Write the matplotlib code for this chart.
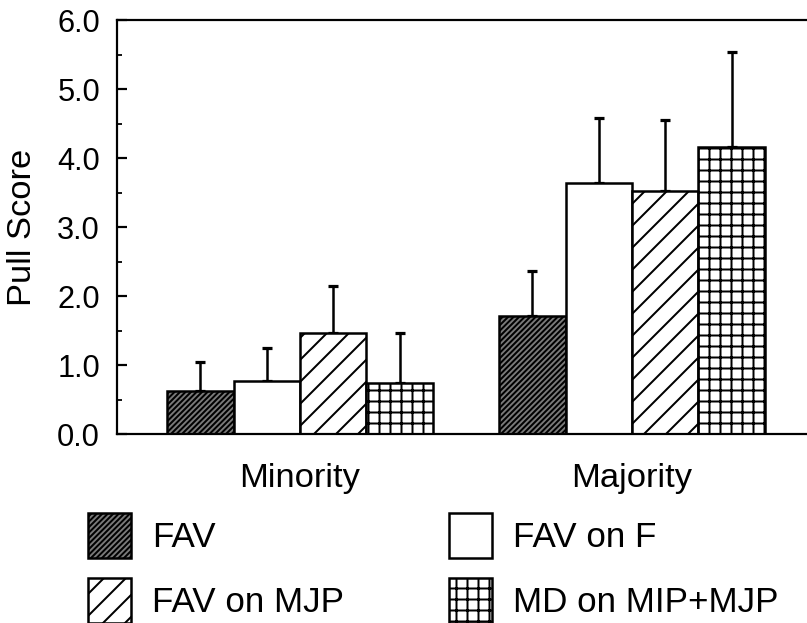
import matplotlib
matplotlib.use("Agg")
import matplotlib.pyplot as plt
import matplotlib.patches as mpatches
from matplotlib.ticker import MultipleLocator, FormatStrFormatter
import numpy as np

# ---- data ----
groups = ["Minority", "Majority"]
conditions = ["FAV", "FAV on F", "FAV on MJP", "MD on MIP+MJP"]
minority_means = [0.62, 0.77, 1.47, 0.74]
minority_err = [0.43, 0.475, 0.68, 0.72]
majority_means = [1.71, 3.635, 3.53, 4.165]
majority_err = [0.66, 0.94, 1.02, 1.365]
yticks = [0.0, 1.0, 2.0, 3.0, 4.0, 5.0, 6.0]

# ---- styling ----
DPI = 132
W, H = 807, 623
P = 72.0 / DPI  # pixels -> points


def pt(px):
    return px * P


plt.rcParams['font.family'] = ['Liberation Sans', 'DejaVu Sans']
plt.rcParams['hatch.linewidth'] = pt(2.0)
plt.rcParams['hatch.color'] = 'black'

faces = ['#7a7a7a', 'white', 'white', 'white']
hatches = ['////////', '', '//', '++']

fig = plt.figure(figsize=(W / DPI, H / DPI), dpi=DPI)
ax_left, ax_right = 117, 807
ax_top, ax_bot = 20, 434.3
ax = fig.add_axes([ax_left / W, (H - ax_bot) / H, (ax_right - ax_left) / W, (ax_bot - ax_top) / H])

x = np.arange(len(groups))
width = 0.2
offsets = [-0.3, -0.1, 0.1, 0.3]
for i in range(len(conditions)):
    means = [minority_means[i], majority_means[i]]
    errs = [minority_err[i], majority_err[i]]
    ax.bar(x + offsets[i], means, width, color=faces[i], edgecolor='black',
           linewidth=pt(2.5), hatch=hatches[i], zorder=2)
    ax.errorbar(x + offsets[i], means, yerr=[np.zeros(2), errs], fmt='none',
                ecolor='black', elinewidth=pt(2.5), capsize=pt(5), capthick=pt(3.2), zorder=1)

ax.set_xlim(-0.5512, 1.5271)
ax.set_ylim(0, 6)
ax.set_yticks(yticks)
ax.yaxis.set_major_formatter(FormatStrFormatter('%.1f'))
ax.yaxis.set_minor_locator(MultipleLocator(0.5))
ax.set_xticks(x)
ax.set_xticklabels(groups, fontsize=pt(34.5))
ax.tick_params(axis='x', length=0, pad=pt(29))
ax.tick_params(axis='y', which='major', direction='in', length=pt(10), width=pt(2.2),
               labelsize=pt(30.8), pad=pt(17))
ax.tick_params(axis='y', which='minor', direction='in', length=pt(5), width=pt(1.8))
for s in ['left', 'bottom', 'top']:
    ax.spines[s].set_linewidth(pt(2.2))
ax.spines['right'].set_visible(False)

ax.set_ylabel('Pull Score', fontsize=pt(34.5))
ax.yaxis.set_label_coords((38 - ax_left) / (ax_right - ax_left), 0.5)

handles = [mpatches.Patch(facecolor=faces[i], edgecolor='black', linewidth=pt(2.5),
                          hatch=hatches[i], label=conditions[i]) for i in range(4)]
order = [0, 2, 1, 3]
leg = fig.legend([handles[k] for k in order], [conditions[k] for k in order],
                 ncol=2, loc='upper left', bbox_to_anchor=(88 / W, (H - 513) / H),
                 frameon=False, fontsize=pt(35), handlelength=1.23, handleheight=1.614,
                 handletextpad=0.6, labelspacing=0.56, columnspacing=2.99, borderpad=0,
                 borderaxespad=0)

fig.savefig('out.png', dpi=DPI)
